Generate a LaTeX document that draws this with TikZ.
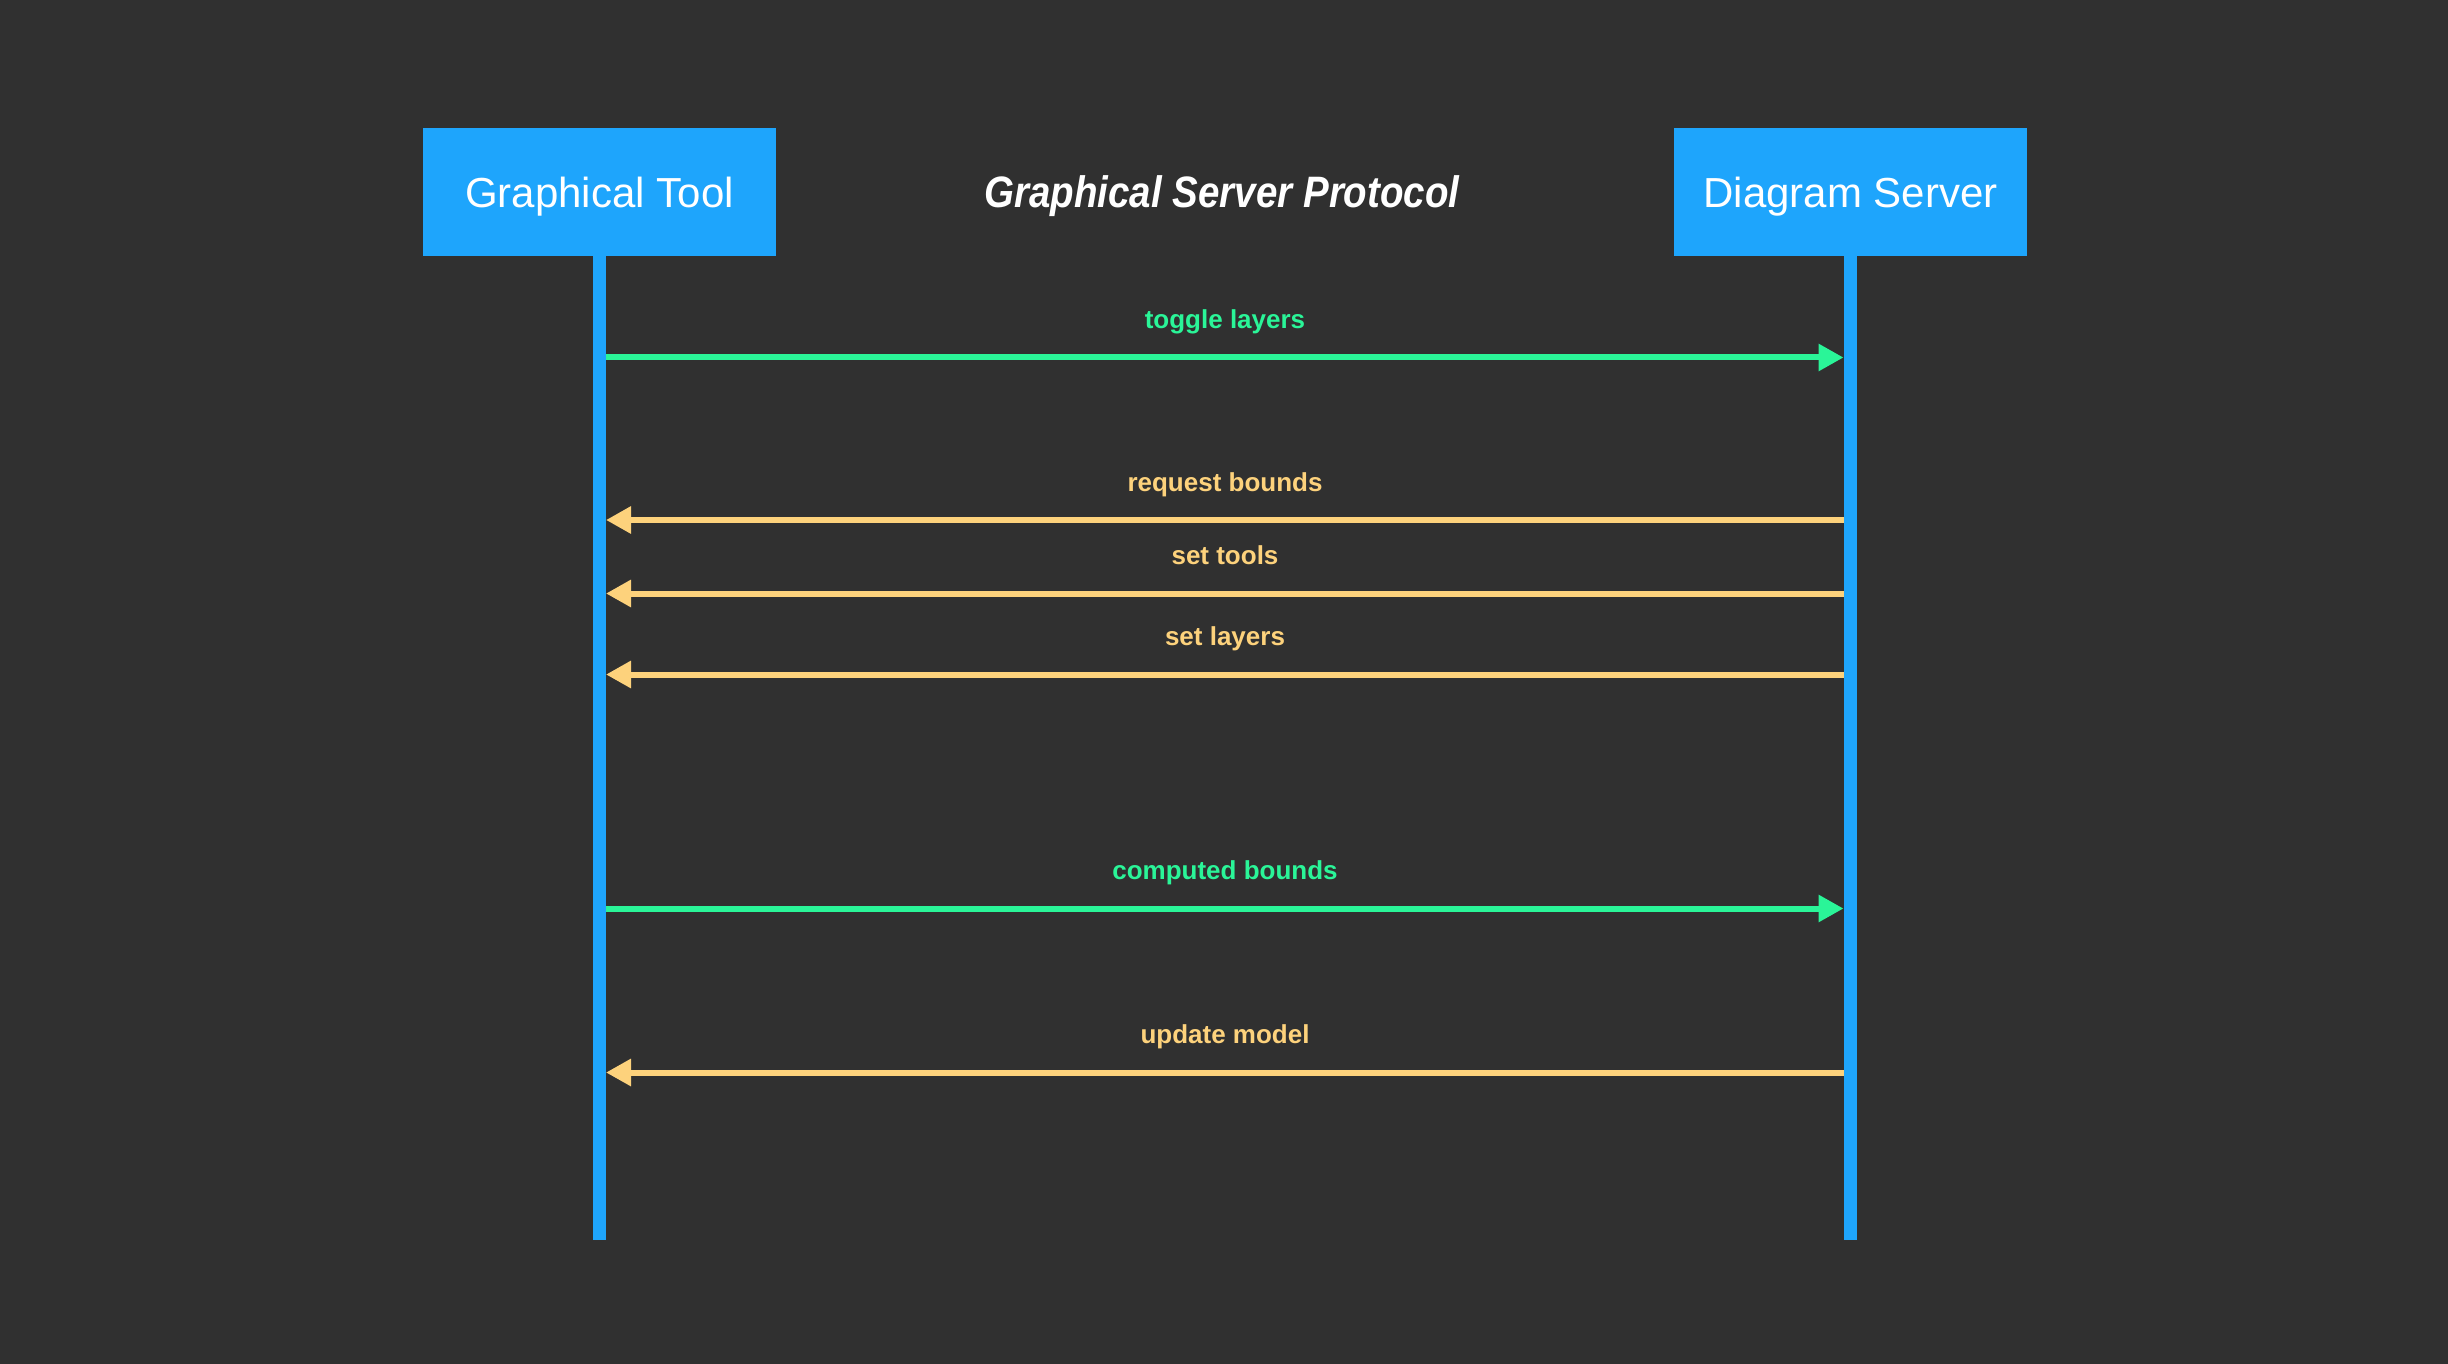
\documentclass[tikz,border=0pt]{standalone}
\usepackage{fontspec}
\setmainfont{Liberation Sans}
\newfontfamily\titlefont[FakeStretch=0.875]{Liberation Sans}
\usetikzlibrary{arrows.meta}
\definecolor{bgc}{RGB}{48,48,48}
\definecolor{bluec}{RGB}{30,165,252}
\definecolor{greenc}{RGB}{42,245,152}
\definecolor{yellowc}{RGB}{253,210,124}
\tikzset{
  actor/.style={rectangle, fill=bluec, text=white, minimum width=176.5pt, minimum height=64pt, inner sep=0pt, text height=16pt, text depth=0pt, font=\fontsize{21}{25}\selectfont},
  lifeline/.style={draw=bluec, line width=6.5pt},
  msg/.style={line width=3pt, -{Triangle[length=12.5pt,width=13pt]}},
  callmsg/.style={msg, draw=greenc},
  retmsg/.style={msg, draw=yellowc},
  lbl/.style={anchor=base, font=\bfseries\fontsize{13}{15}\selectfont, inner sep=0pt},
}
\begin{document}
\begin{tikzpicture}[x=0.5pt,y=-0.5pt]
\fill[bgc] (0,0) rectangle (2448,1364);
\useasboundingbox (0,0) rectangle (2448,1364);
\node[actor] (gt) at (599.5,192) {Graphical Tool};
\node[actor] (ds) at (1850.5,192) {Diagram Server};
\node[anchor=base, text=white, inner sep=0pt, font=\titlefont\bfseries\itshape\fontsize{22}{26}\selectfont] (title) at (1222,208) {Graphical Server Protocol};
\coordinate (gtend) at (599.5,1240);
\coordinate (dsend) at (1850.5,1240);
\draw[lifeline] (gt.south) -- (gtend);
\draw[lifeline] (ds.south) -- (dsend);
% messages
\foreach \n/\y in {1/357.5,2/520,3/593.5,4/674.5,5/908.5,6/1072.5}{
  \coordinate (L\n) at (606,\y);
  \coordinate (R\n) at (1843.5,\y);
  \coordinate (M\n) at (1225,\y-29);
}
\draw[callmsg] (L1) -- (R1);
\node[lbl, text=greenc] (t1) at (M1) {toggle layers};
\draw[retmsg] (R2) -- (L2);
\node[lbl, text=yellowc] (t2) at (M2) {request bounds};
\draw[retmsg] (R3) -- (L3);
\node[lbl, text=yellowc] (t3) at (M3) {set tools};
\draw[retmsg] (R4) -- (L4);
\node[lbl, text=yellowc] (t4) at (M4) {set layers};
\draw[callmsg] (L5) -- (R5);
\node[lbl, text=greenc] (t5) at (M5) {computed bounds};
\draw[retmsg] (R6) -- (L6);
\node[lbl, text=yellowc] (t6) at (M6) {update model};
\end{tikzpicture}
\end{document}
